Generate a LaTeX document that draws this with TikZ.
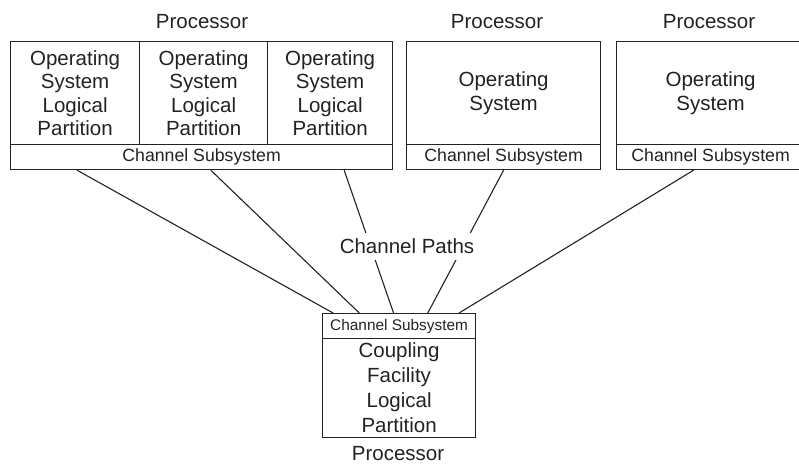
\documentclass[tikz,border=0pt]{standalone}
\usepackage{fontspec}
\setmainfont{Liberation Sans}
\usetikzlibrary{calc}
\definecolor{ink}{HTML}{222222}
\begin{document}
\begin{tikzpicture}[x=1pt,y=-1pt,
  box/.style={draw=ink,line width=1.2pt,inner sep=0pt,anchor=north west,align=center,text=ink},
  big/.style={font=\fontsize{20.5}{23.5}\selectfont},
  cs/.style={font=\fontsize{17.7}{20}\selectfont},
  lbl/.style={text=ink,font=\fontsize{20.5}{23.5}\selectfont,inner sep=0pt},
  path/.style={draw=ink,line width=1.1pt}]
\useasboundingbox (0,0) rectangle (799,464);
% Processor 1
\node[box,big,minimum width=129,minimum height=103] (p1a) at (10,41) {Operating\\System\\Logical\\Partition};
\node[box,big,minimum width=128,minimum height=103] (p1b) at (139,41) {Operating\\System\\Logical\\Partition};
\node[box,big,minimum width=125,minimum height=103] (p1c) at (267,41) {Operating\\System\\Logical\\Partition};
\node[box,cs,minimum width=382,minimum height=25] (cs1) at (10,144) {Channel Subsystem};
\node[lbl] (l1) at (202,22) {Processor};
% Processor 2
\node[box,big,minimum width=194,minimum height=103] (p2) at (406,41) {Operating\\System};
\node[box,cs,minimum width=194,minimum height=25] (cs2) at (406,144) {Channel Subsystem};
\node[lbl] (l2) at (497,22) {Processor};
% Processor 3 (open at the right edge)
\node[box,big,minimum width=188,minimum height=103] (p3) at (616,41) {Operating\\System};
\node[box,cs,minimum width=188,minimum height=25] (cs3) at (616,144) {Channel Subsystem};
\node[lbl] (l3) at (709,22) {Processor};
% Bottom processor
\node[box,font=\fontsize{15.4}{18}\selectfont,minimum width=153,minimum height=25] (csb) at (322,313) {Channel Subsystem};
\node[box,font=\fontsize{20.5}{25}\selectfont,minimum width=153,minimum height=99] (cf) at (322,338) {Coupling\\Facility\\Logical\\Partition};
\node[lbl] (l4) at (398,454) {Processor};
% Channel paths
\draw[path] ($(cs1.south west)!0.175!(cs1.south east)$) -- ($(csb.north west)!0.072!(csb.north east)$);
\draw[path] ($(cs1.south west)!0.524!(cs1.south east)$) -- ($(csb.north west)!0.242!(csb.north east)$);
\draw[path] ($(cs1.south west)!0.872!(cs1.south east)$) -- ($(csb.north west)!0.464!(csb.north east)$);
\draw[path] (cs2.south) -- ($(csb.north west)!0.686!(csb.north east)$);
\draw[path] ($(cs3.south west)!0.410!(cs3.south east)$) -- ($(csb.north west)!0.889!(csb.north east)$);
\node[lbl,fill=white,inner xsep=3pt,minimum height=27] (cp) at (407,246) {Channel Paths};
\end{tikzpicture}
\end{document}
